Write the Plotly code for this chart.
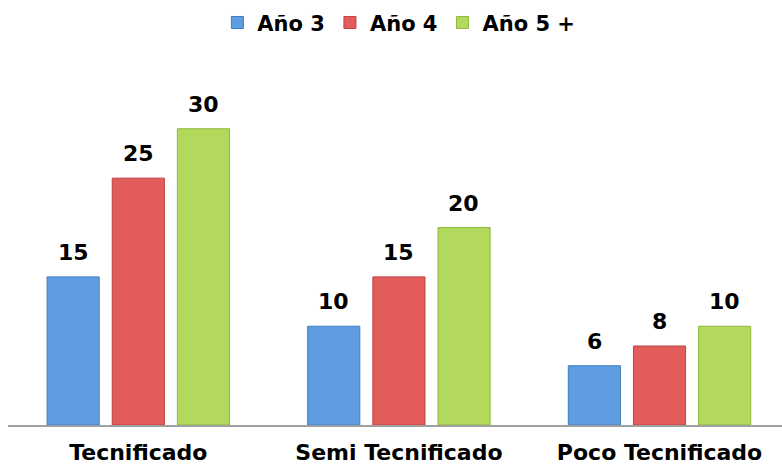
import plotly.graph_objects as go

categories = ["Tecnificado", "Semi Tecnificado", "Poco Tecnificado"]
series_names = ["Año 3", "Año 4", "Año 5 +"]
anio3 = [15, 10, 6]
anio4 = [25, 15, 8]
anio5 = [30, 20, 10]
series_values = [anio3, anio4, anio5]
colors = ["#5f9de3", "#e25c5c", "#b2d95c"]
line_colors = ["#3f7cc4", "#c04040", "#8fb83c"]

FONT = "DejaVu Sans, Arial, sans-serif"

fig = go.Figure()
for name, vals, c, lc in zip(series_names, series_values, colors, line_colors):
    fig.add_trace(go.Bar(
        x=categories, y=vals, name=name,
        marker=dict(color=c, line=dict(color=lc, width=1)),
    ))

offsets = [-65, 0, 65]
for vals, off in zip(series_values, offsets):
    for cat, v in zip(categories, vals):
        fig.add_annotation(
            x=cat, y=v, text=f"<b>{v}</b>", showarrow=False,
            xshift=off, yshift=10, yanchor="bottom",
            font=dict(family=FONT, size=22, color="#000000"),
        )

fig.update_layout(
    width=782, height=466,
    margin=dict(l=8, r=0, t=109, b=41),
    paper_bgcolor="white", plot_bgcolor="white",
    barmode="group", bargap=0.25, bargroupgap=0.2,
    showlegend=True,
    legend=dict(
        orientation="h", x=0.505, xanchor="center", y=0.995, yref="container",
        yanchor="top", font=dict(family=FONT, size=21, color="#000000", weight="bold"),
        itemwidth=30, tracegroupgap=0,
    ),
    xaxis=dict(
        range=[-0.5, 2.47], showgrid=False, ticks="", showline=True,
        linecolor="#a0a0a0", linewidth=1.5, automargin=False,
        tickfont=dict(family=FONT, size=22, color="#000000", weight="bold"),
        ticklabelstandoff=7,
    ),
    yaxis=dict(range=[0, 32], visible=False, showgrid=False, zeroline=False,
               automargin=False),
)

fig.write_html("out.html")
